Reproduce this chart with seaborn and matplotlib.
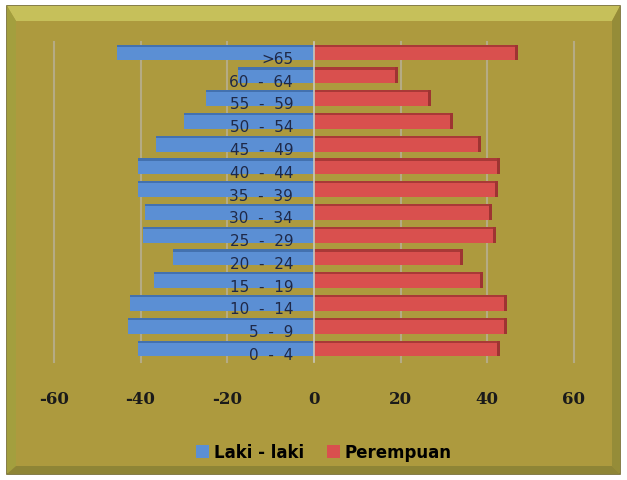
import matplotlib
matplotlib.use("Agg")
import matplotlib.pyplot as plt
import pandas as pd
import seaborn as sns
from matplotlib.patches import Rectangle, Polygon

# Population pyramid data (percent per age group)
age_groups = [">65", "60 - 64", "55 - 59", "50 - 54", "45 - 49", "40 - 44", "35 - 39",
              "30 - 34", "25 - 29", "20 - 24", "15 - 19", "10 - 14", "5 - 9", "0 - 4"]
laki_laki = [45.5, 17.5, 25, 30, 36.5, 40.5, 40.5, 39, 39.5, 32.5, 37, 42.5, 43, 40.5]
perempuan = [47, 19.5, 27, 32, 38.5, 43, 42.5, 41, 42, 34.5, 39, 44.5, 44.5, 43]
series_names = ["Laki - laki", "Perempuan"]
x_ticks = [-60, -40, -20, 0, 20, 40, 60]

BLUE = "#5b8fd4"
RED = "#d9504e"
BLUE_DARK = "#3e6aa6"
RED_DARK = "#9e3432"
FACE = "#ad9a3e"

df = pd.DataFrame({
    "age": age_groups * 2,
    "value": [-v for v in laki_laki] + perempuan,
    "sex": [series_names[0]] * len(age_groups) + [series_names[1]] * len(age_groups),
})

W, H = 627, 481
fig = plt.figure(figsize=(W / 100, H / 100), dpi=100, facecolor="white")


def fx(px):
    return px / W


def fy(py):
    return 1 - py / H


# Bevelled chart frame
x0, y0, x1, y1 = 7, 7, 620, 475
ix0, iy0, ix1, iy1 = 16, 22, 612, 467
fig.patches.append(Rectangle((fx(x0), fy(y1)), fx(x1) - fx(x0), fy(y0) - fy(y1),
                             transform=fig.transFigure, facecolor=FACE,
                             edgecolor="#6f6628", lw=1.2, zorder=-3))
bevels = [
    ([(x0, y0), (x1, y0), (ix1, iy0), (ix0, iy0)], "#c6c05a"),
    ([(x0, y0), (ix0, iy0), (ix0, iy1), (x0, y1)], "#a39f3e"),
    ([(x1, y0), (x1, y1), (ix1, iy1), (ix1, iy0)], "#958c38"),
    ([(x0, y1), (ix0, iy1), (ix1, iy1), (x1, y1)], "#8e8536"),
]
for pts, col in bevels:
    fig.patches.append(Polygon([(fx(a), fy(b)) for a, b in pts], closed=True,
                               transform=fig.transFigure, facecolor=col,
                               edgecolor="none", zorder=-2))

# Plot area
ax_left, ax_right, ax_top, ax_bottom = 40, 600, 33, 370
ax = fig.add_axes([fx(ax_left), fy(ax_bottom), fx(ax_right) - fx(ax_left),
                   fy(ax_top) - fy(ax_bottom)])
ax.set_facecolor("none")
ax.set_zorder(2)

sns.barplot(data=df, x="value", y="age", hue="sex", order=age_groups,
            hue_order=series_names, palette=[BLUE, RED], dodge=False,
            orient="h", width=0.7, saturation=1, legend=False, ax=ax, zorder=2)

ax.set_xlim(-63.2, 66.0)
ax.set_ylim(len(age_groups) - 0.1, -0.9)

# Back-wall grid lines
for t in x_ticks:
    if t != 0:
        ax.axvline(t, color="#b9b3a3", lw=1.5, alpha=0.7, zorder=1,
                   ymin=0.02, ymax=0.97)

# 3-D shading on each bar: darker top strip and end face
for patch in list(ax.patches):
    bx, by = patch.get_x(), patch.get_y()
    bw, bh = patch.get_width(), patch.get_height()
    dark = BLUE_DARK if bw < 0 else RED_DARK
    ax.add_patch(Rectangle((bx, by), bw, bh * 0.14, facecolor=dark,
                           edgecolor="none", zorder=2.5, alpha=0.8))
    if bw > 0:
        ax.add_patch(Rectangle((bx + bw - 0.7, by), 0.7, bh, facecolor=dark,
                               edgecolor="none", zorder=2.5))

ax.axvline(0, color="#c9c7bb", lw=1.2, zorder=3, ymin=0.02, ymax=0.97)

# Age group labels sit inside the blue bars next to the axis
for i, lab in enumerate(age_groups):
    ax.text(-4.8, i + 0.26, lab.replace(" - ", "  -  "), ha="right", va="center",
            fontsize=11, color="#1f2948", family="DejaVu Sans", zorder=4)

ax.set_yticks([])
ax.set_xticks(x_ticks)
ax.set_xticklabels([str(t) for t in x_ticks], fontsize=12, fontweight="bold",
                   family="DejaVu Serif", color="#1a1a1a")
ax.tick_params(axis="x", length=0, pad=15)
ax.set_xlabel("")
ax.set_ylabel("")
for s in ax.spines.values():
    s.set_visible(False)

handles = [Rectangle((0, 0), 1, 1, facecolor=BLUE, edgecolor="none"),
           Rectangle((0, 0), 1, 1, facecolor=RED, edgecolor="none")]
fig.legend(handles, series_names, loc="center", bbox_to_anchor=(fx(324), fy(453)),
           ncol=2, frameon=False, handlelength=0.75, handleheight=0.85,
           handletextpad=0.3, columnspacing=1.4,
           prop={"family": "DejaVu Sans", "weight": "bold", "size": 12})

fig.savefig("out.png", dpi=100, facecolor="white")
